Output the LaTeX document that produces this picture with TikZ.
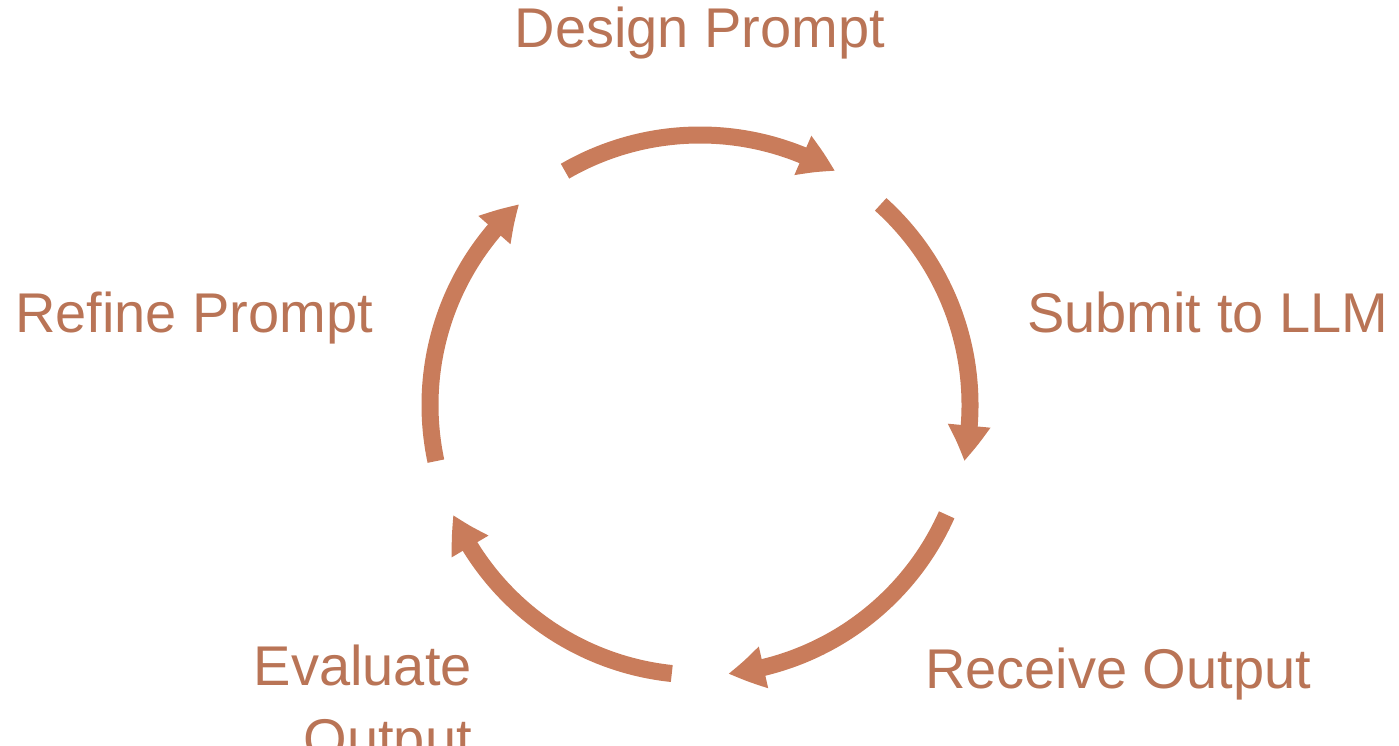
\documentclass[tikz,border=0pt]{standalone}
\usepackage{fontspec}
\setmainfont{Liberation Sans}
\usetikzlibrary{arrows.meta,bending}
\definecolor{cyclearrow}{RGB}{201,124,91}
\definecolor{cycletext}{RGB}{185,116,86}
\begin{document}
\begin{tikzpicture}[x=1pt,y=1pt]
        \useasboundingbox (0,0) rectangle (1399,745);
        \coordinate (C) at (700,340);
        \foreach \i in {0,...,4} {
          \coordinate (S\i) at ([shift={(120-72*\i:270)}]C);
          \draw[cyclearrow, line width=17pt, -{Triangle[width=40pt,length=36pt,bend]}]
            (S\i) arc[start angle=120-72*\i, end angle=60-72*\i, radius=270];
        }
        \node[cycletext, inner sep=0, anchor=base, font=\fontsize{56}{73}\selectfont] (Design) at (700,697) {Design Prompt};
        \node[cycletext, inner sep=0, anchor=base west, font=\fontsize{56}{73}\selectfont] (Submit) at (1027,412) {Submit to LLM};
        \node[cycletext, inner sep=0, anchor=base west, font=\fontsize{56}{73}\selectfont] (Receive) at (925,57) {Receive Output};
        \node[cycletext, inner sep=0, anchor=base east, align=right, font=\fontsize{56}{73}\selectfont] (Evaluate) at (472,-13) {Evaluate\\Output};
        \node[cycletext, inner sep=0, anchor=base west, font=\fontsize{56}{73}\selectfont] (Refine) at (15,412) {Refine Prompt};
      \end{tikzpicture}
\end{document}
